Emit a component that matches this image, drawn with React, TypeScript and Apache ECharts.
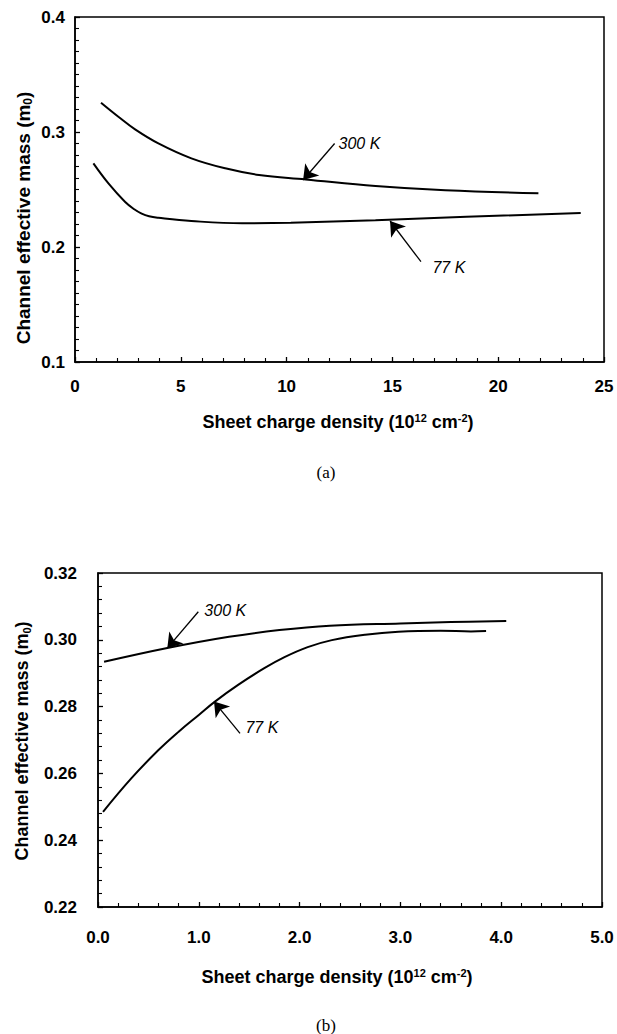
import React, { useEffect, useRef } from "react";
import * as echarts from "echarts";

// ---------- Panel (a) data ----------
const a300X = [1.23, 2.05, 2.84, 3.94, 5.5, 7.1, 8.7, 10.9, 14.2, 17.5, 21.9];
const a300Y = [0.3255, 0.3133, 0.3023, 0.2901, 0.2771, 0.2684, 0.2626, 0.2588, 0.253, 0.2493, 0.2467];
const a77X = [0.87, 1.58, 2.36, 2.8, 3.15, 3.5, 3.94, 5.5, 7.9, 10.2, 14.2, 18.5, 23.9];
const a77Y = [0.2727, 0.2553, 0.2394, 0.2328, 0.229, 0.2267, 0.2254, 0.2226, 0.2206, 0.2211, 0.2233, 0.2262, 0.2296];

// ---------- Panel (b) data ----------
const b300X = [0.06, 0.7, 1.3, 1.8, 2.3, 3.0, 3.5, 4.05];
const b300Y = [0.2934, 0.2976, 0.3009, 0.3029, 0.3042, 0.3049, 0.3053, 0.3056];
const b77X = [0.05, 0.33, 0.6, 0.8, 1.0, 1.16, 1.39, 1.65, 1.85, 2.08, 2.32, 2.65, 2.98, 3.4, 3.7, 3.85];
const b77Y = [0.2485, 0.2585, 0.267, 0.2725, 0.2775, 0.2815, 0.2865, 0.2915, 0.2948, 0.2978, 0.2999, 0.3015, 0.3024, 0.3027, 0.3025, 0.3026];

// ---------- Annotations (data coordinates) ----------
const a300Arrow = [[12.27, 0.290], [10.78, 0.2583]];
const a77Arrow = [[16.35, 0.1872], [14.89, 0.2226]];
const b300Arrow = [[0.995, 0.3084], [0.6875, 0.2975]];
const b77Arrow = [[1.409, 0.272], [1.151, 0.2815]];
const a300Text = [12.43, 0.2904];
const a77Text = [16.87, 0.1826];
const b300Text = [1.05, 0.3089];
const b77Text = [1.458, 0.2736];

// ---------- Axis settings ----------
const aXTicks = { min: 0, max: 25, interval: 5, minor: 5 };
const aYTicks = { min: 0.1, max: 0.4, interval: 0.1, minor: 10 };
const bXTicks = { min: 0, max: 5, interval: 1, minor: 5 };
const bYTicks = { min: 0.22, max: 0.32, interval: 0.02, minor: 5 };

const yTitle = "Channel effective mass (m{sub|0})";
const xTitle = "Sheet charge density (10{sup|12} cm{sup|-2})";

const SANS = "'Liberation Sans', Arial, Helvetica, sans-serif";
const SERIF = "'Liberation Serif', 'Times New Roman', serif";

const zip = (xs: number[], ys: number[]) => xs.map((x, i) => [x, ys[i]]);

function valueAxis(grid: number, t: any, fmt: (v: number) => string, margin: number) {
  return {
    type: "value",
    gridIndex: grid,
    min: t.min,
    max: t.max,
    interval: t.interval,
    axisLine: { show: true, lineStyle: { color: "#000", width: 1.5 } },
    axisTick: { show: true, inside: true, length: 5, lineStyle: { color: "#000", width: 1.3 } },
    minorTick: { show: true, splitNumber: t.minor, length: 4, lineStyle: { color: "#000", width: 1.1 } },
    splitLine: { show: false },
    minorSplitLine: { show: false },
    axisLabel: {
      color: "#000",
      fontFamily: SANS,
      fontWeight: "bold",
      fontSize: 17,
      margin,
      formatter: fmt,
    },
  };
}

function curve(name: string, xi: number, data: number[][], arrow: number[][], text: number[], label: string) {
  return {
    type: "line",
    name,
    xAxisIndex: xi,
    yAxisIndex: xi,
    data,
    symbol: "none",
    showSymbol: false,
    smooth: 0.4,
    lineStyle: { color: "#000", width: 2 },
    silent: true,
    markLine: {
      silent: true,
      symbol: ["none", "arrow"],
      symbolSize: 14,
      lineStyle: { color: "#000", width: 1.3, type: "solid" },
      label: { show: false },
      data: [[{ coord: arrow[0] }, { coord: arrow[1] }]],
    },
    markPoint: {
      silent: true,
      symbol: "circle",
      symbolSize: 1,
      itemStyle: { color: "rgba(0,0,0,0)" },
      label: {
        show: true,
        position: "right",
        distance: 0,
        formatter: label,
        color: "#000",
        fontFamily: SANS,
        fontStyle: "italic",
        fontSize: 16,
      },
      data: [{ coord: text }],
    },
  };
}

function titleText(x: number, y: number, text: string, rotation: number, size: number) {
  const small = Math.round(size * 0.62);
  return {
    type: "text",
    x,
    y,
    rotation,
    silent: true,
    style: {
      text,
      x: 0,
      y: 0,
      align: "center",
      verticalAlign: "middle",
      fill: "#000",
      fontFamily: SANS,
      fontWeight: "bold",
      fontSize: size,
      rich: {
        sup: { fontSize: small, fontWeight: "bold", fontFamily: SANS, verticalAlign: "top", lineHeight: size + 2, fill: "#000" },
        sub: { fontSize: small, fontWeight: "bold", fontFamily: SANS, verticalAlign: "bottom", lineHeight: size + 2, fill: "#000" },
      },
    },
  };
}

export default function App() {
  const ref = useRef<HTMLDivElement>(null);
  useEffect(() => {
    const chart = echarts.init(ref.current!, null, { renderer: "svg" });
    chart.setOption({
      animation: false,
      backgroundColor: "#fff",
      grid: [
        { left: 75, top: 17, width: 529, height: 345, show: true, borderColor: "#000", borderWidth: 1.5, backgroundColor: "transparent" },
        { left: 98, top: 573, width: 504, height: 334, show: true, borderColor: "#000", borderWidth: 1.5, backgroundColor: "transparent" },
      ],
      xAxis: [
        valueAxis(0, aXTicks, (v: number) => String(v), 16),
        valueAxis(1, bXTicks, (v: number) => v.toFixed(1), 22),
      ],
      yAxis: [
        valueAxis(0, aYTicks, (v: number) => v.toFixed(1), 10),
        valueAxis(1, bYTicks, (v: number) => v.toFixed(2), 21),
      ],
      series: [
        curve("300 K (a)", 0, zip(a300X, a300Y), a300Arrow, a300Text, "300 K"),
        curve("77 K (a)", 0, zip(a77X, a77Y), a77Arrow, a77Text, "77 K"),
        curve("300 K (b)", 1, zip(b300X, b300Y), b300Arrow, b300Text, "300 K"),
        curve("77 K (b)", 1, zip(b77X, b77Y), b77Arrow, b77Text, "77 K"),
      ],
      graphic: [
        titleText(23, 218, yTitle, Math.PI / 2, 19),
        titleText(22, 741, yTitle, Math.PI / 2, 18),
        titleText(338, 422, xTitle, 0, 18),
        titleText(337, 977, xTitle, 0, 18),
        {
          type: "text",
          x: 326,
          y: 472,
          silent: true,
          style: { text: "(a)", align: "center", verticalAlign: "middle", fill: "#000", fontFamily: SERIF, fontSize: 17 },
        },
        {
          type: "text",
          x: 326,
          y: 1025,
          silent: true,
          style: { text: "(b)", align: "center", verticalAlign: "middle", fill: "#000", fontFamily: SERIF, fontSize: 17 },
        },
      ],
    });
    return () => chart.dispose();
  }, []);
  return (
    <div
      ref={ref}
      style={{ position: "absolute", left: 0, top: 0, width: 617, height: 1034, background: "#fff" }}
    />
  );
}
